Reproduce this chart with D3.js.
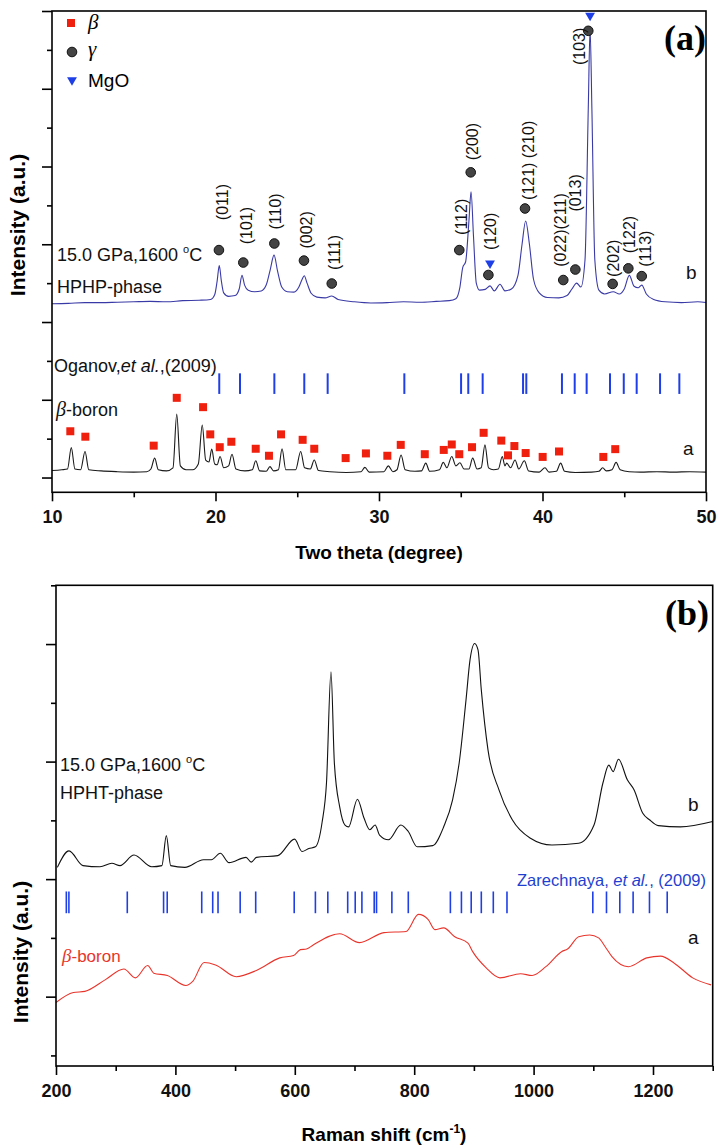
<!DOCTYPE html>
<html><head><meta charset="utf-8">
<script src="https://cdn.jsdelivr.net/npm/d3@7"></script>
<style>body{margin:0;background:#fff}svg{display:block}</style>
</head><body>
<svg id="c" width="719" height="1148"></svg>
<script>
// ---------------- DATA ----------------
// Panel (a): XRD, x = two theta (degree), y = intensity (a.u.)
const xrdXTicks = [10, 20, 30, 40, 50];
const xrdXMinor = [15, 25, 35, 45];
const xrdYTicks = [0,1,2,3,4,5,6,7,8,9,10,11,12];

const hphpXRD = [[10.0,4.47],[11,4.48],[12,4.5],[13,4.5],[14,4.51],[15,4.52],[16,4.53],[17,4.52],[18,4.55],[19,4.56],[19.7,4.58],[19.95,4.7],[20.1,5.05],[20.23,5.45],[20.36,5.05],[20.5,4.75],[20.8,4.66],[21.2,4.68],[21.45,4.85],[21.62,5.2],[21.78,4.95],[22.0,4.82],[22.4,4.78],[22.8,4.8],[23.1,4.95],[23.35,5.35],[23.58,5.72],[23.8,5.3],[24.05,4.9],[24.4,4.78],[24.8,4.77],[25.1,4.9],[25.3,5.1],[25.43,5.19],[25.6,5.0],[25.85,4.74],[26.2,4.64],[26.7,4.62],[27.11,4.67],[27.5,4.58],[28.5,4.52],[29.5,4.49],[30.5,4.5],[31.5,4.52],[32.5,4.51],[33.5,4.53],[34.3,4.55],[34.7,4.6],[34.95,4.9],[35.12,5.4],[35.3,5.55],[35.5,6.6],[35.63,7.35],[35.78,6.2],[35.95,5.0],[36.15,4.82],[36.5,4.84],[36.79,4.93],[37.05,4.8],[37.4,4.97],[37.7,4.8],[38.1,4.85],[38.5,5.2],[38.75,6.0],[38.97,6.6],[39.2,6.0],[39.45,5.1],[39.8,4.75],[40.3,4.63],[41.0,4.62],[41.5,4.68],[41.8,4.85],[42.09,5.0],[42.35,4.9],[42.6,5.6],[42.8,9.5],[42.91,11.55],[43.02,9.5],[43.2,5.6],[43.45,4.82],[43.8,4.72],[44.33,4.78],[44.7,4.72],[45.0,4.85],[45.31,5.2],[45.6,4.92],[45.85,4.88],[46.07,4.95],[46.35,4.72],[46.8,4.58],[47.5,4.52],[48.5,4.5],[49.5,4.52],[50,4.5]];

const betaXRD = [[10,0.18],[10.6,0.2],[10.95,0.22],[11.18,0.77],[11.4,0.22],[11.75,0.2],[12.02,0.67],[12.25,0.2],[13,0.17],[14,0.15],[15,0.14],[15.8,0.15],[16.05,0.22],[16.28,0.5],[16.5,0.2],[17.0,0.17],[17.4,0.25],[17.63,1.63],[17.85,0.3],[18.2,0.2],[18.6,0.2],[18.95,0.35],[19.19,1.35],[19.4,0.45],[19.6,0.4],[19.77,0.73],[19.95,0.35],[20.1,0.33],[20.28,0.54],[20.5,0.25],[20.8,0.3],[21.01,0.6],[21.25,0.22],[21.8,0.17],[22.25,0.2],[22.46,0.43],[22.7,0.17],[23.1,0.16],[23.33,0.28],[23.55,0.17],[23.85,0.2],[24.07,0.74],[24.3,0.2],[24.9,0.2],[25.21,0.67],[25.45,0.25],[25.8,0.22],[26.04,0.45],[26.3,0.18],[27,0.15],[28,0.13],[28.9,0.15],[29.14,0.26],[29.4,0.14],[30.3,0.15],[30.57,0.3],[30.85,0.15],[31.1,0.2],[31.35,0.58],[31.6,0.2],[32.2,0.16],[32.6,0.17],[32.86,0.37],[33.1,0.16],[33.7,0.2],[33.93,0.39],[34.15,0.25],[34.45,0.54],[34.7,0.3],[34.95,0.38],[35.2,0.22],[35.5,0.22],[35.73,0.5],[36.0,0.22],[36.25,0.25],[36.48,0.84],[36.7,0.25],[37.0,0.2],[37.3,0.22],[37.54,0.54],[37.7,0.3],[37.81,0.37],[38.05,0.25],[38.32,0.45],[38.55,0.22],[38.89,0.43],[39.15,0.17],[39.8,0.14],[40.15,0.25],[40.4,0.14],[40.85,0.16],[41.11,0.37],[41.35,0.16],[42,0.13],[43,0.14],[43.45,0.16],[43.68,0.25],[43.9,0.17],[44.25,0.2],[44.5,0.39],[44.75,0.2],[45.3,0.15],[46,0.14],[47,0.15],[48,0.14],[49,0.15],[50,0.14]];

// Oganov et al. (2009) reflection positions (degree) and tick extent (a.u.)
const oganovTheta = [20.23,21.50,23.60,25.43,26.86,31.55,35.02,35.46,36.34,38.81,39.01,41.19,41.97,42.70,44.13,44.97,45.76,47.19,48.37];
const oganovSpan = [2.15, 2.68];

// beta-boron markers (red squares)
const betaMarkTheta = [11.12,12.04,16.22,17.63,19.24,19.68,20.26,20.97,22.46,23.27,24.01,25.33,26.04,27.96,29.20,30.51,31.33,32.80,33.96,34.45,34.91,35.69,36.40,37.48,37.89,38.28,38.97,40.01,41.01,43.72,44.45];
const betaMarkI = [1.19,1.05,0.82,2.05,1.81,1.11,0.78,0.92,0.74,0.56,1.11,0.97,0.74,0.50,0.62,0.56,0.84,0.60,0.71,0.85,0.60,0.78,1.15,0.95,0.57,0.81,0.63,0.53,0.67,0.53,0.73];

// gamma-boron markers (grey circles)
const gammaTheta = [20.21,21.70,23.60,25.41,27.11,34.91,35.61,36.69,38.93,41.27,42.01,42.80,44.29,45.25,46.07];
const gammaI = [5.85,5.53,6.02,5.58,4.99,5.85,7.85,5.21,6.92,5.08,5.35,11.49,4.98,5.38,5.18];

// MgO markers (blue triangles)
const mgoTheta = [36.79, 42.91];
const mgoI = [5.51, 11.88];

// hkl labels (text, theta of label, intensity where label starts)
const hklText = ["(011)","(101)","(110)","(002)","(111)","(112)","(200)","(120)","(121) (210)","(022)(211)","(013)","(103)","(202)","(122)","(113)"];
const hklTheta = [20.44,21.87,23.64,25.58,27.25,35.06,35.73,36.79,39.13,41.11,41.99,42.25,44.33,45.31,46.27];
const hklI = [6.62,6.00,6.38,5.89,5.34,6.24,8.16,5.85,7.14,5.42,6.84,10.61,5.16,5.77,5.42];

// Panel (b): Raman, x = Raman shift (cm-1)
const ramanXTicks = [200,400,600,800,1000,1200];
const ramanXMinor = [300,500,700,900,1100,1300];
const ramanYTicks = [0,1,2,3,4,5,6,7,8];

const hphtRaman = [[202.3,3.20],[221.8,3.48],[245.2,3.23],[273.7,3.21],[293.6,3.27],[307.2,3.23],[330.7,3.41],[360.3,3.21],[377.4,3.23],[384.8,3.74],[392.1,3.23],[415.9,3.20],[447.1,3.33],[460.3,3.33],[475.2,3.44],[489.8,3.28],[518.3,3.37],[527,3.29],[535.9,3.37],[571.5,3.40],[599.7,3.68],[612.1,3.47],[623.5,3.52],[634.5,3.55],[645.6,3.96],[653.1,4.64],[660.6,6.53],[666.3,4.97],[675.2,4.23],[684.1,3.92],[690.1,3.89],[704.9,4.36],[715.9,4.04],[725.6,3.84],[734.5,3.92],[742,3.75],[756.8,3.67],[777.6,3.92],[790.1,3.81],[805,3.55],[831,3.57],[849.4,3.89],[864.3,4.35],[875.4,4.98],[886.8,6.05],[893.5,6.73],[901.3,7.01],[906.9,6.90],[912.4,6.22],[923.6,5.20],[942,4.52],[964.3,4.01],[994,3.70],[1030.8,3.58],[1075.5,3.61],[1101.2,3.92],[1116.2,4.64],[1126,4.94],[1133.3,4.83],[1142.2,5.04],[1157,4.69],[1168.2,4.52],[1182.9,4.12],[1194.1,4.01],[1208.9,3.91],[1245.9,3.89],[1300,3.98]];

const betaRaman = [[200,0.90],[229.1,1.07],[248.4,1.09],[282.9,1.29],[313.7,1.47],[332.8,1.32],[353.6,1.53],[363.7,1.40],[386.6,1.36],[417.4,1.19],[429,1.26],[448.1,1.58],[467.3,1.54],[501.8,1.34],[536.5,1.45],[574.9,1.66],[598,1.70],[609.5,1.80],[619.6,1.81],[630.8,1.88],[675.2,2.07],[708.5,1.92],[749.4,2.09],[786.3,2.11],[807.2,2.40],[823.5,2.31],[834.7,2.14],[849.4,2.17],[868,2.02],[890.1,1.91],[897.7,1.77],[920.6,1.49],[943.7,1.32],[978.2,1.39],[997.5,1.36],[1020.6,1.51],[1047.4,1.77],[1056.9,1.81],[1075.5,2.02],[1094,2.05],[1108.9,2.00],[1119.9,1.85],[1131.3,1.68],[1158.8,1.51],[1189.6,1.66],[1212.7,1.69],[1235.7,1.57],[1266.5,1.32],[1297.2,1.20]];

// Zarechnaya et al. (2009) mode positions (cm-1) and tick extent
const zarechnayaShift = [217.3,221.6,319.4,380.2,386.3,444.1,462.5,471.4,508.5,534.5,599,634.5,655.3,688.6,701.2,712.4,733,736.9,762.6,790.1,860.6,879.1,895.5,912.4,932.5,955.4,1099.2,1122.1,1144.4,1166.7,1194.1,1223.8];
const zarechnayaSpan = [2.42, 2.79];

// ---------------- DRAW ----------------
const SANS = "'Liberation Sans', Arial, Helvetica, sans-serif";
const SERIF = "'Liberation Serif', 'Times New Roman', serif";
const svg = d3.select("#c");

function frameAndAxes(g, x, y, xt, xm, yt, opts) {
  const [x0, x1] = x.range();
  const [y0, y1] = y.range();
  const yMaj = yt.filter((d, i) => i % 2 === opts.majorParity);
  const yMin = yt.filter((d, i) => i % 2 !== opts.majorParity);
  const ax1 = g.append("g").attr("transform", `translate(0,${y0})`)
    .call(d3.axisBottom(x).tickValues(xt).tickSize(9).tickPadding(9).tickFormat(d3.format("d")));
  const ax2 = g.append("g").attr("transform", `translate(0,${y0})`)
    .call(d3.axisBottom(x).tickValues(xm).tickSize(5).tickFormat(""));
  const ay1 = g.append("g").attr("transform", `translate(${x0},0)`)
    .call(d3.axisLeft(y).tickValues(yMaj).tickSize(10).tickFormat(""));
  const ay2 = g.append("g").attr("transform", `translate(${x0},0)`)
    .call(d3.axisLeft(y).tickValues(yMin).tickSize(5).tickFormat(""));
  [ax1, ax2, ay1, ay2].forEach(a => {
    a.select(".domain").remove();
    a.selectAll(".tick line").attr("stroke", "#000").attr("stroke-width", 1.6);
  });
  ax1.selectAll(".tick text").attr("font-family", SANS).attr("font-weight", "bold")
    .attr("font-size", 18).attr("fill", "#111");
  g.append("rect").attr("x", x0).attr("y", y1).attr("width", x1 - x0).attr("height", y0 - y1)
    .attr("fill", "none").attr("stroke", "#000").attr("stroke-width", 1.6);
}

// ===== Panel (a) =====
const xA = d3.scaleLinear().domain([10, 50]).range([52, 706]);
const yA = d3.scaleLinear().domain([-0.38, 12]).range([492.3, 11]);
const gA = svg.append("g");
const lineA = d3.line().x(d => xA(d[0])).y(d => yA(d[1])).curve(d3.curveMonotoneX);

gA.append("path").datum(hphpXRD).attr("d", lineA).attr("fill", "none")
  .attr("stroke", "#3a3aa6").attr("stroke-width", 1.1);
gA.append("path").datum(betaXRD).attr("d", lineA).attr("fill", "none")
  .attr("stroke", "#1a1a1a").attr("stroke-width", 1.1);

gA.selectAll("line.og").data(oganovTheta).join("line").attr("class", "og")
  .attr("x1", d => xA(d)).attr("x2", d => xA(d))
  .attr("y1", yA(oganovSpan[1])).attr("y2", yA(oganovSpan[0]))
  .attr("stroke", "#1f3fe6").attr("stroke-width", 2);

gA.selectAll("rect.bm").data(betaMarkTheta).join("rect").attr("class", "bm")
  .attr("x", d => xA(d) - 4).attr("y", (d, i) => yA(betaMarkI[i]) - 4)
  .attr("width", 8).attr("height", 8).attr("fill", "#f0200f");

gA.selectAll("circle.gm").data(gammaTheta).join("circle").attr("class", "gm")
  .attr("cx", d => xA(d)).attr("cy", (d, i) => yA(gammaI[i])).attr("r", 4.8)
  .attr("fill", "#444").attr("stroke", "#111").attr("stroke-width", 1);

const tri = d3.symbol().type(d3.symbolTriangle).size(42);
gA.selectAll("path.mg").data(mgoTheta).join("path").attr("class", "mg")
  .attr("d", tri).attr("fill", "#1f3fe6")
  .attr("transform", (d, i) => `translate(${xA(d)},${yA(mgoI[i])}) rotate(180)`);

gA.selectAll("text.hkl").data(hklText).join("text").attr("class", "hkl")
  .attr("transform", (d, i) => `translate(${xA(hklTheta[i])},${yA(hklI[i])}) rotate(-90)`)
  .attr("dominant-baseline", "central").attr("font-family", SANS).attr("font-size", 16)
  .attr("fill", "#111").text(d => d);

frameAndAxes(gA, xA, yA, xrdXTicks, xrdXMinor, xrdYTicks, {majorParity: 0});

// legend
const lg = gA.append("g");
lg.append("rect").attr("x", 67).attr("y", 19).attr("width", 8).attr("height", 8).attr("fill", "#f0200f");
lg.append("circle").attr("cx", 72).attr("cy", 52).attr("r", 4.8).attr("fill", "#444").attr("stroke", "#111");
lg.append("path").attr("d", tri).attr("fill", "#1f3fe6").attr("transform", "translate(72,80) rotate(180)");
lg.append("text").attr("x", 88).attr("y", 29).attr("font-family", SERIF).attr("font-style", "italic").attr("font-size", 21).text("β");
lg.append("text").attr("x", 88).attr("y", 56).attr("font-family", SERIF).attr("font-style", "italic").attr("font-size", 21).text("γ");
lg.append("text").attr("x", 88).attr("y", 87).attr("font-family", SANS).attr("font-size", 19).text("MgO");

gA.append("text").attr("x", 706).attr("y", 50).attr("text-anchor", "end")
  .attr("font-family", SERIF).attr("font-weight", "bold").attr("font-size", 36).text("(a)");

const t1 = gA.append("text").attr("x", 57).attr("y", 261).attr("font-family", SANS).attr("font-size", 18).attr("fill", "#111");
t1.append("tspan").text("15.0 GPa,1600 ");
t1.append("tspan").attr("font-size", 11).attr("dy", -8).text("o");
t1.append("tspan").attr("dy", 8).text("C");
gA.append("text").attr("x", 57).attr("y", 293).attr("font-family", SANS).attr("font-size", 18).attr("fill", "#111").text("HPHP-phase");
gA.append("text").attr("x", 686).attr("y", 279).attr("font-family", SANS).attr("font-size", 19).attr("fill", "#111").text("b");
gA.append("text").attr("x", 683).attr("y", 455).attr("font-family", SANS).attr("font-size", 19).attr("fill", "#111").text("a");
const t2 = gA.append("text").attr("x", 54).attr("y", 372).attr("font-family", SANS).attr("font-size", 18).attr("fill", "#111");
t2.append("tspan").text("Oganov,");
t2.append("tspan").attr("font-style", "italic").text("et al.");
t2.append("tspan").text(",(2009)");
const t3 = gA.append("text").attr("x", 56).attr("y", 416).attr("font-family", SANS).attr("font-size", 18).attr("fill", "#111");
t3.append("tspan").attr("font-family", SERIF).attr("font-style", "italic").attr("font-size", 20).text("β");
t3.append("tspan").text("-boron");

gA.append("text").attr("x", 379).attr("y", 559).attr("text-anchor", "middle")
  .attr("font-family", SANS).attr("font-weight", "bold").attr("font-size", 19).text("Two theta (degree)");
gA.append("text").attr("transform", "translate(17,225) rotate(-90)").attr("text-anchor", "middle")
  .attr("dominant-baseline", "central").attr("font-family", SANS).attr("font-weight", "bold")
  .attr("font-size", 21).text("Intensity (a.u.)");

// ===== Panel (b) =====
const xB = d3.scaleLinear().domain([200, 1300]).range([56, 712.7]);
const yB = d3.scaleLinear().domain([-0.18, 8]).range([1066, 585.3]);
const gB = svg.append("g");
const lineB = d3.line().x(d => xB(d[0])).y(d => yB(d[1])).curve(d3.curveMonotoneX);

gB.append("path").datum(hphtRaman).attr("d", lineB).attr("fill", "none")
  .attr("stroke", "#111").attr("stroke-width", 1.1);
gB.append("path").datum(betaRaman).attr("d", lineB).attr("fill", "none")
  .attr("stroke", "#e8352c").attr("stroke-width", 1.1);

gB.selectAll("line.zr").data(zarechnayaShift).join("line").attr("class", "zr")
  .attr("x1", d => xB(d)).attr("x2", d => xB(d))
  .attr("y1", yB(zarechnayaSpan[1])).attr("y2", yB(zarechnayaSpan[0]))
  .attr("stroke", "#1f3fe6").attr("stroke-width", 1.6);

frameAndAxes(gB, xB, yB, ramanXTicks, ramanXMinor, ramanYTicks, {majorParity: 1});

gB.append("text").attr("x", 709).attr("y", 625).attr("text-anchor", "end")
  .attr("font-family", SERIF).attr("font-weight", "bold").attr("font-size", 36).text("(b)");
const t4 = gB.append("text").attr("x", 60).attr("y", 771).attr("font-family", SANS).attr("font-size", 18).attr("fill", "#111");
t4.append("tspan").text("15.0 GPa,1600 ");
t4.append("tspan").attr("font-size", 11).attr("dy", -8).text("o");
t4.append("tspan").attr("dy", 8).text("C");
gB.append("text").attr("x", 60).attr("y", 799).attr("font-family", SANS).attr("font-size", 18).attr("fill", "#111").text("HPHT-phase");
gB.append("text").attr("x", 688).attr("y", 811).attr("font-family", SANS).attr("font-size", 19).attr("fill", "#111").text("b");
gB.append("text").attr("x", 688).attr("y", 944).attr("font-family", SANS).attr("font-size", 19).attr("fill", "#111").text("a");
const t5 = gB.append("text").attr("x", 706).attr("y", 886).attr("text-anchor", "end").attr("font-family", SANS).attr("font-size", 16.5).attr("fill", "#1f3fd0");
t5.append("tspan").text("Zarechnaya, ");
t5.append("tspan").attr("font-style", "italic").text("et al.");
t5.append("tspan").text(", (2009)");
const t6 = gB.append("text").attr("x", 62).attr("y", 962).attr("font-family", SANS).attr("font-size", 17).attr("fill", "#e8352c");
t6.append("tspan").attr("font-family", SERIF).attr("font-style", "italic").attr("font-size", 19).text("β");
t6.append("tspan").text("-boron");

const t7 = gB.append("text").attr("x", 384).attr("y", 1141).attr("text-anchor", "middle")
  .attr("font-family", SANS).attr("font-weight", "bold").attr("font-size", 19);
t7.append("tspan").text("Raman shift (cm");
t7.append("tspan").attr("font-size", 12).attr("dy", -8).text("-1");
t7.append("tspan").attr("dy", 8).text(")");
gB.append("text").attr("transform", "translate(20,952) rotate(-90)").attr("text-anchor", "middle")
  .attr("dominant-baseline", "central").attr("font-family", SANS).attr("font-weight", "bold")
  .attr("font-size", 21).text("Intensity (a.u.)");
</script>
</body></html>
